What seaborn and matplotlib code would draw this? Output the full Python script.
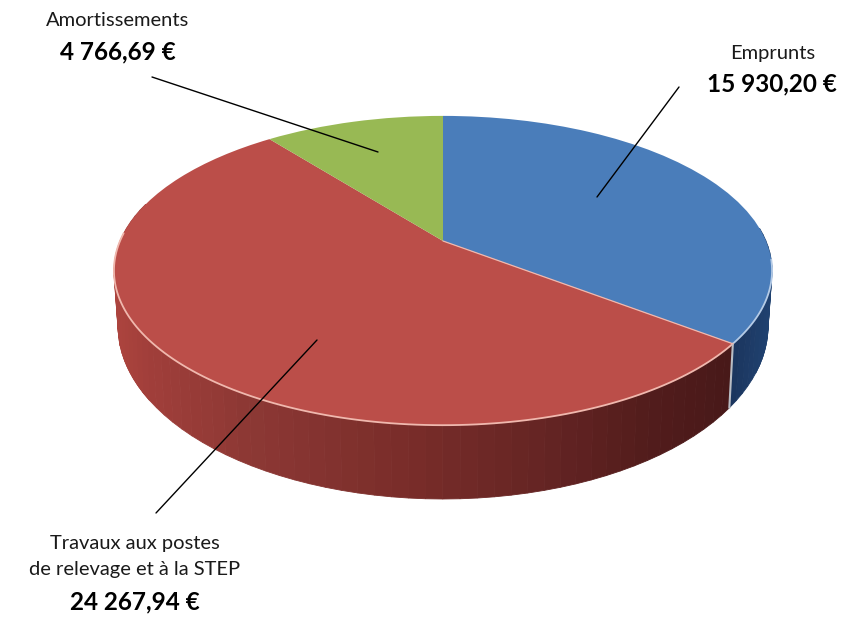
"""
Budget pie - fake 3D pie, drawn in pixel coordinates of the 846x617 picture
"""

import numpy as np
import matplotlib.pyplot as plt
import seaborn as sns
from matplotlib.transforms import Transform

# data
labels = ['Emprunts', 'Travaux aux postes\nde relevage et à la STEP', 'Amortissements']
values = [15930.20, 24267.94, 4766.69]
value_labels = ['15 930,20 €', '24 267,94 €', '4 766,69 €']

top_colors = ['#4a7dba', '#bb4e49', '#98b954']
edge_colors = ['#b5cbe6', '#f0b8ae']

# wall shading, left to right
red_wall_x = [115, 150, 250, 400, 550, 650, 730]
red_wall_rgb = [(172, 68, 62), (160, 62, 58), (140, 56, 52), (122, 45, 42),
                (100, 36, 35), (82, 28, 28), (72, 25, 25)]
blue_wall_x = [726, 770]
blue_wall_rgb = [(26, 50, 90), (32, 66, 112)]

APEX_X, APEX_Y = 443, 241
K = 0.191  # perspective strength
SX, SY = 323, 149
LOW_CY, LOW_RX, LOW_RY = 326, 325, 173  # bottom rim ellipse
TOP_RX = 329

FONT = ['Lato', 'DejaVu Sans']
SMALL, BIG = 14.5, 17.5


class Perspective(Transform):
    """Unit circle (pie space) to picture pixels"""
    input_dims = output_dims = 2
    has_inverse = False

    def transform_non_affine(self, values):
        xy = np.asarray(values, dtype=float)
        d = 1 + K * xy[:, 1]
        return np.column_stack([APEX_X + SX * xy[:, 0] / d,
                                APEX_Y - SY * xy[:, 1] / d])


def rim(angles):
    """Top rim at clockwise angles from 12 o'clock (degrees)"""
    a = np.radians(angles)
    return Perspective().transform_non_affine(np.column_stack([np.sin(a), np.cos(a)]))


def low_rim(angles):
    """Bottom rim of the wall, front half of an ellipse, same x order as top rim"""
    u = (rim(angles)[:, 0] - APEX_X) / TOP_RX
    return np.column_stack([APEX_X + LOW_RX * u,
                            LOW_CY + LOW_RY * np.sqrt(np.clip(1 - u ** 2, 0, 1))])


def draw_wall(ax, start, stop, xs, rgbs):
    edges = np.linspace(start, stop, int(abs(stop - start) / 2.5) + 2)
    up, low = rim(edges), low_rim(edges)
    rgbs = np.array(rgbs) / 255
    for i in range(len(edges) - 1):
        mid = (up[i, 0] + up[i + 1, 0]) / 2
        color = [np.interp(mid, xs, rgbs[:, c]) for c in range(3)]
        ax.fill([up[i, 0], up[i + 1, 0], low[i + 1, 0], low[i, 0]],
                [up[i, 1], up[i + 1, 1], low[i + 1, 1], low[i, 1]],
                color=color, lw=0.6, zorder=1)


sns.set_theme(style='white')
fig = plt.figure(figsize=(8.46, 6.17), dpi=100)
ax = fig.add_axes([0, 0, 1, 1])

cuts = np.cumsum(values) / np.sum(values) * 360

# side wall first, the top covers what should be hidden
draw_wall(ax, 85, cuts[0], blue_wall_x, blue_wall_rgb)
draw_wall(ax, cuts[0], 285, red_wall_x, red_wall_rgb)

# top face
wedges, _ = ax.pie(values, colors=top_colors, startangle=90, counterclock=False,
                   wedgeprops={'linewidth': 0})
to_pixels = Perspective() + ax.transData
for w in wedges:
    w.set_transform(to_pixels)
    w.set_zorder(2)

# pale highlight lines
arc = np.linspace(97, cuts[0], 40)
ax.plot(*rim(arc).T, color=edge_colors[0], lw=1.3, zorder=3)
arc = np.linspace(cuts[0], 273, 120)
ax.plot(*rim(arc).T, color=edge_colors[1], lw=1.3, zorder=3)
seam_top, seam_low = rim([cuts[0]])[0], low_rim([cuts[0]])[0]
ax.plot([seam_top[0], seam_low[0]], [seam_top[1], seam_low[1]],
        color='#b9bdc4', lw=1.5, zorder=3)
ax.plot([APEX_X, seam_top[0]], [APEX_Y, seam_top[1]], color=edge_colors[1], lw=0.9, zorder=3)

# leader lines
ax.plot([152, 378], [77, 152], color='black', lw=1, zorder=4)
ax.plot([679, 597], [87, 197], color='black', lw=1, zorder=4)
ax.plot([317, 156], [340, 513], color='black', lw=1, zorder=4)

# labels
first, second = labels[1].split('\n')
ax.text(118, 21, labels[2], ha='center', va='center', fontsize=SMALL, family=FONT, color='#1a1a1a')
ax.text(118, 52, value_labels[2], ha='center', va='center', fontsize=BIG,
        fontweight='bold', family=FONT, color='black')
ax.text(773, 53, labels[0], ha='center', va='center', fontsize=SMALL, family=FONT, color='#1a1a1a')
ax.text(772, 84, value_labels[0], ha='center', va='center', fontsize=BIG,
        fontweight='bold', family=FONT, color='black')
ax.text(135, 543, first, ha='center', va='center', fontsize=SMALL, family=FONT, color='#1a1a1a')
ax.text(135, 570, second, ha='center', va='center', fontsize=SMALL, family=FONT, color='#1a1a1a')
ax.text(135, 602, value_labels[1], ha='center', va='center', fontsize=BIG,
        fontweight='bold', family=FONT, color='black')

ax.set_aspect('auto')
ax.set_xlim(0, 846)
ax.set_ylim(617, 0)
ax.axis('off')

fig.savefig('out.png', dpi=100)
plt.close(fig)
